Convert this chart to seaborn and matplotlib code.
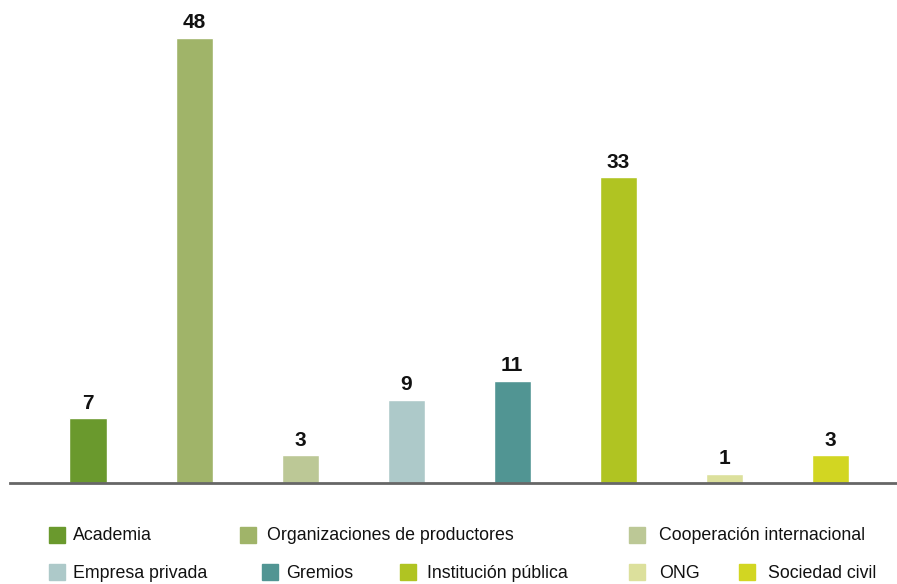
import matplotlib.pyplot as plt
import pandas as pd
import seaborn as sns
from matplotlib.patches import Rectangle

# Datos del gráfico
categorias = ["Academia", "Organizaciones de productores", "Cooperación internacional",
              "Empresa privada", "Gremios", "Institución pública", "ONG", "Sociedad civil"]
valores = [7, 48, 3, 9, 11, 33, 1, 3]
colores = ["#6A992D", "#A0B469", "#BCC896", "#ADC9C9", "#519593", "#B0C422", "#DCE09C", "#D2D622"]

df = pd.DataFrame({"categoria": categorias, "valor": valores})

sns.set_style("white")
plt.rcParams["font.family"] = ["Liberation Sans Narrow", "Liberation Sans", "DejaVu Sans"]

W, H = 897, 584
fig = plt.figure(figsize=(W / 100, H / 100), dpi=100)
ax = fig.add_axes([10 / W, 1 - 483 / H, (W - 10) / W, (483 - 19.5) / H])

sns.barplot(data=df, x="categoria", y="valor", hue="categoria",
            palette=colores, width=0.35, legend=False, ax=ax, saturation=1)

for cont in ax.containers:
    ax.bar_label(cont, padding=4, fontsize=15, fontweight="bold", color="#111111")

ax.set_xlim(-0.736, 7.63)
ax.set_ylim(0, 50)
ax.set_xlabel("")
ax.set_ylabel("")
ax.set_xticks([])
ax.set_yticks([])
for s in ["top", "right", "left"]:
    ax.spines[s].set_visible(False)
ax.spines["bottom"].set_color("#666666")
ax.spines["bottom"].set_linewidth(2)

# Leyenda (posiciones en píxeles: cuadro x, texto x, centro y)
pos_leyenda = [(49, 73, 535), (240, 267, 535), (629, 659, 535),
               (49, 73, 572), (262, 286, 572), (400, 427, 572), (629, 659, 572), (739, 768, 572)]
for (qx, tx, py), nombre, col in zip(pos_leyenda, categorias, colores):
    fig.add_artist(Rectangle((qx / W, 1 - (py + 8) / H), 16 / W, 16 / H,
                             transform=fig.transFigure, color=col))
    fig.text(tx / W, 1 - (py + 1) / H, nombre, fontsize=12.8,
             va="center", ha="left", color="#111111")

fig.savefig("out.png", dpi=100)
